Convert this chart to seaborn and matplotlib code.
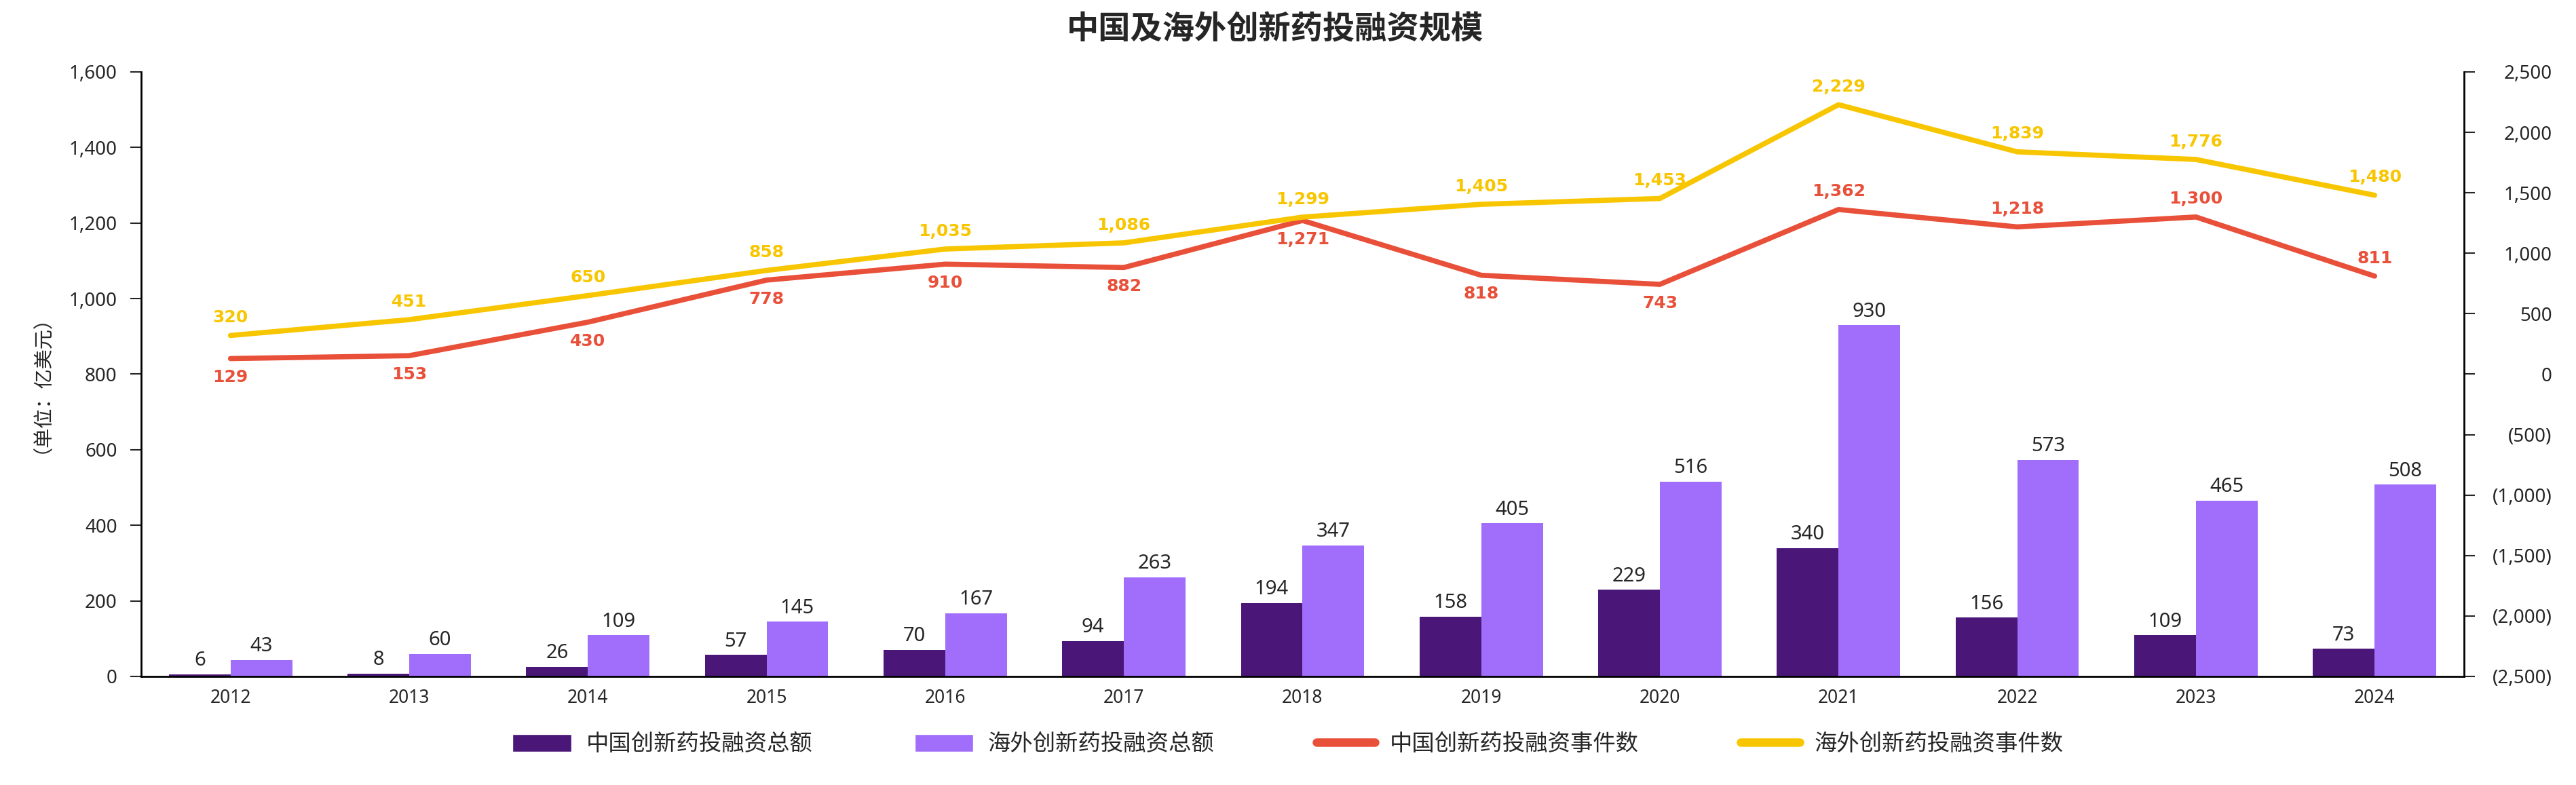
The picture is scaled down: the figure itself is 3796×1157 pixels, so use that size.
import numpy as np
import pandas as pd
import seaborn as sns
import matplotlib.pyplot as plt
from matplotlib.patches import Patch
from matplotlib.lines import Line2D
from matplotlib.ticker import FuncFormatter

sns.set_style("white")
plt.rcParams["font.family"] = ["Noto Sans", "Noto Sans CJK SC", "DejaVu Sans"]

# 数据
years = ["2012", "2013", "2014", "2015", "2016", "2017", "2018",
         "2019", "2020", "2021", "2022", "2023", "2024"]
china_amt = [6, 8, 26, 57, 70, 94, 194, 158, 229, 340, 156, 109, 73]
overseas_amt = [43, 60, 109, 145, 167, 263, 347, 405, 516, 930, 573, 465, 508]
china_cnt = [129, 153, 430, 778, 910, 882, 1271, 818, 743, 1362, 1218, 1300, 811]
overseas_cnt = [320, 451, 650, 858, 1035, 1086, 1299, 1405, 1453, 2229, 1839, 1776, 1480]
names = ["中国创新药投融资总额", "海外创新药投融资总额",
         "中国创新药投融资事件数", "海外创新药投融资事件数"]

c_dark = "#4A1677"
c_light = "#A06EFA"
c_red = "#E9503A"
c_yellow = "#F8C600"
cjk = ["Noto Sans CJK SC", "DejaVu Sans"]

df = pd.DataFrame({
    "year": years * 2,
    "series": [names[0]] * len(years) + [names[1]] * len(years),
    "value": china_amt + overseas_amt,
})

fig, ax = plt.subplots(figsize=(37.96, 11.57), dpi=100)
fig.subplots_adjust(left=0.0548, right=0.9565, top=0.9084, bottom=0.1383)

sns.barplot(data=df, x="year", y="value", hue="series", hue_order=names[:2],
            palette=[c_dark, c_light], saturation=1, width=0.69,
            linewidth=0, legend=False, ax=ax)
for cont, vals in zip(ax.containers, [china_amt, overseas_amt]):
    ax.bar_label(cont, labels=[str(v) for v in vals], padding=4, fontsize=21)

ax2 = ax.twinx()
pos = np.arange(len(years))
sns.lineplot(x=pos, y=china_cnt, color=c_red, linewidth=5.5,
             solid_capstyle="round", ax=ax2)
sns.lineplot(x=pos, y=overseas_cnt, color=c_yellow, linewidth=5.5,
             solid_capstyle="round", ax=ax2)

# 折线标签
red_above = [False] * 9 + [True] * 4
for i, v in enumerate(china_cnt):
    dy = 19 if red_above[i] else -20
    ax2.annotate(f"{v:,}", (i, v), xytext=(0, dy), textcoords="offset points",
                 ha="center", va="center", color=c_red, fontsize=18,
                 fontweight="bold", family="DejaVu Sans")
for i, v in enumerate(overseas_cnt):
    ax2.annotate(f"{v:,}", (i, v), xytext=(0, 19), textcoords="offset points",
                 ha="center", va="center", color=c_yellow, fontsize=18,
                 fontweight="bold", family="DejaVu Sans")

ax.set_xlim(-0.5, len(years) - 0.5)
ax.set_ylim(0, 1600)
ax.set_yticks(np.arange(0, 1601, 200))
ax.yaxis.set_major_formatter(FuncFormatter(lambda v, p: f"{v:,.0f}"))
ax2.set_ylim(-2500, 2500)
ax2.set_yticks(np.arange(-2500, 2501, 500))
ax2.yaxis.set_major_formatter(
    FuncFormatter(lambda v, p: f"({abs(v):,.0f})" if v < 0 else f"{v:,.0f}"))

ax.set_xlabel("")
ax.set_ylabel("")
ax2.set_ylabel("")

for a in (ax, ax2):
    a.spines["top"].set_visible(False)
    for s in a.spines.values():
        s.set_linewidth(2)
        s.set_color("black")
ax.spines["right"].set_visible(False)
ax2.spines["left"].set_visible(False)
ax2.spines["bottom"].set_visible(False)

ax.tick_params(axis="x", length=0, pad=13, labelsize=19)
ax.tick_params(axis="y", length=11.5, width=1.5, pad=14, labelsize=20, left=True)
ax2.tick_params(axis="y", length=11.5, width=1.5, pad=82, labelsize=20, right=True)
plt.setp(ax2.get_yticklabels(), ha="right")

fig.text(47 / 3796, 0.5234, "（单位：亿美元）", rotation=90, ha="center",
         va="center", fontsize=21, family=cjk)
fig.suptitle("中国及海外创新药投融资规模", x=0.495, y=0.962, va="center",
             fontsize=34, fontweight="bold", family=cjk)

handles = [
    Patch(facecolor=c_dark),
    Patch(facecolor=c_light),
    Line2D([], [], color=c_red, linewidth=9),
    Line2D([], [], color=c_yellow, linewidth=9),
]
fig.legend(handles, names, loc="center", bbox_to_anchor=(0.5, 0.052), ncol=4,
           frameon=False, prop={"family": cjk, "size": 24},
           handlelength=2.6, handleheight=0.8, handletextpad=0.65,
           columnspacing=4.5)

fig.savefig("out.png", dpi=100)
